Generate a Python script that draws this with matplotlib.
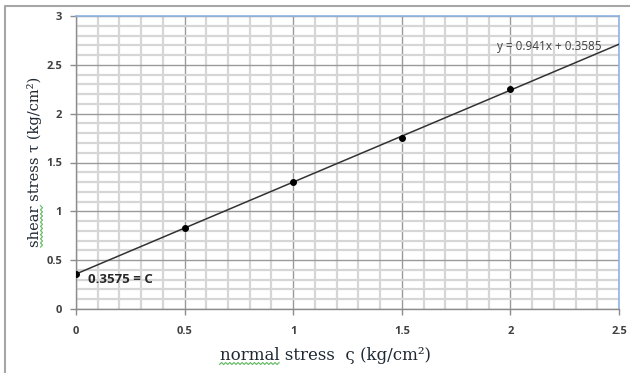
import numpy as np
import matplotlib
matplotlib.use("Agg")
import matplotlib.pyplot as plt
from matplotlib.lines import Line2D
from matplotlib.ticker import MultipleLocator

# Measured normal / shear stress pairs
normal_stress = [0.0, 0.5, 1.0, 1.5, 2.0]
shear_stress = [0.3575, 0.83, 1.30, 1.75, 2.25]

# Linear trend line (as printed on the chart)
slope = 0.941
intercept = 0.3585
trend_x = [0.0, 2.5]

x_ticks = [0, 0.5, 1, 1.5, 2, 2.5]
y_ticks = [0, 0.5, 1, 1.5, 2, 2.5, 3]

W, H = 630, 373
fig = plt.figure(figsize=(W / 100, H / 100), dpi=100)
fig.patch.set_facecolor("white")

ax = fig.add_axes([76 / W, 1 - 309 / H, (619 - 76) / W, (309 - 16) / H])
ax.set_xlim(0, 2.5)
ax.set_ylim(0, 3)

ax.xaxis.set_minor_locator(MultipleLocator(0.1))
ax.yaxis.set_minor_locator(MultipleLocator(0.1))
ax.set_xticks(x_ticks)
ax.set_yticks(y_ticks)
ax.set_xticklabels([f"{v:g}" for v in x_ticks])
ax.set_yticklabels([f"{v:g}" for v in y_ticks])

ax.grid(which="minor", color="#d6d6d6", linewidth=1.6, zorder=0)
ax.grid(which="major", color="#9a9a9a", linewidth=1.0, zorder=0.5)
ax.set_axisbelow(True)

for s in ("left", "bottom"):
    ax.spines[s].set_color("#8c8c8c")
    ax.spines[s].set_linewidth(1.0)
for s in ("top", "right"):
    ax.spines[s].set_color("#8eb4e3")
    ax.spines[s].set_linewidth(1.2)

ax.tick_params(which="major", direction="out", length=4, width=1,
               color="#8c8c8c", labelcolor="#404040", labelsize=8)
ax.tick_params(which="minor", length=0)
ax.tick_params(axis="x", pad=8)
ax.tick_params(axis="y", pad=6)
for lab in ax.get_xticklabels() + ax.get_yticklabels():
    lab.set_fontfamily("Open Sans")
    lab.set_fontweight("bold")

# Trend line and data points
tx = np.array(trend_x)
ax.plot(tx, slope * tx + intercept, color="#333333", linewidth=1.1, zorder=3)
ax.plot(normal_stress, shear_stress, "o", color="black", markersize=4, zorder=4)

ax.text(1.94, 2.69, f"y = {slope}x + {intercept}", fontsize=8.5,
        family="Open Sans", color="#404040", ha="left", va="center", zorder=5)
ax.text(0.055, 0.305, f"{shear_stress[0]} = C", fontsize=9.5, family="Open Sans",
        fontweight="bold", color="#262626", ha="left", va="center", zorder=5)

# Axis titles
label_font = dict(family="DejaVu Serif", color="#1f2933")
x_size, y_size = 12, 10.5
xlab = fig.text(325 / W, 1 - 356 / H, "normal stress  ς (kg/cm²)",
                fontsize=x_size, ha="center", va="center", **label_font)
ylab = fig.text(35 / W, 1 - 162 / H, "shear stress τ (kg/cm²)",
                fontsize=y_size, rotation=90, ha="center", va="center", **label_font)

# Outer chart-area frame (top and left edges)
fig.add_artist(Line2D([5 / W, 5 / W, 1.0], [0.0, 1 - 6 / H, 1 - 6 / H],
                      transform=fig.transFigure, color="#a6a6a6", linewidth=1.5))

# Wavy underline beneath the first word of each axis title
fig.canvas.draw()
renderer = fig.canvas.get_renderer()

def word_length(word, size):
    t = fig.text(0, 0, word, fontsize=size, **label_font)
    w = t.get_window_extent(renderer).width
    t.remove()
    return w

def squiggle(a0, a1, c, vertical=False):
    n = int(abs(a1 - a0) / 2) + 1
    t = np.linspace(a0, a1, n)
    off = np.where(np.arange(n) % 2 == 0, -1.0, 1.0)
    xs, ys = (c + off, t) if vertical else (t, c + off)
    fig.add_artist(Line2D(xs / W, ys / H, transform=fig.transFigure,
                          color="#5cb85c", linewidth=0.8))

bx = xlab.get_window_extent(renderer)
squiggle(bx.x0, bx.x0 + word_length("normal", x_size), bx.y0 + 1)
by = ylab.get_window_extent(renderer)
squiggle(by.y0, by.y0 + word_length("shear", y_size), by.x1 - 1, vertical=True)

fig.savefig("out.png", dpi=100)
